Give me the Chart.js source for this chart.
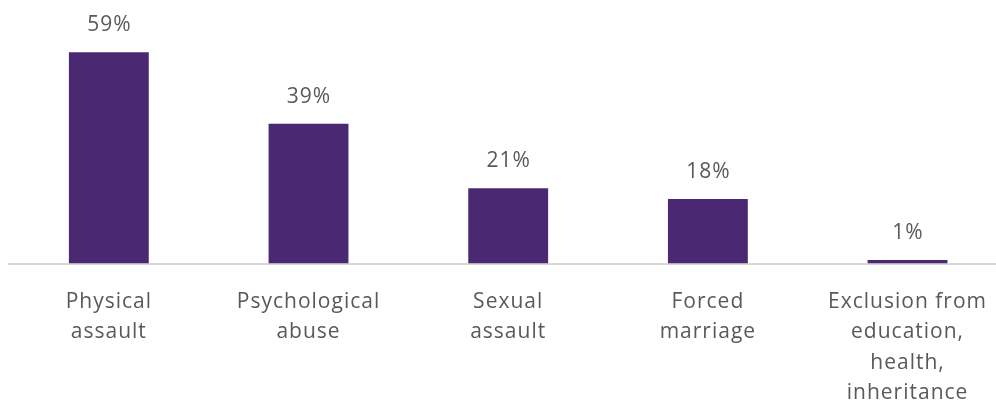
<!DOCTYPE html>
<html>
<head>
<meta charset="utf-8">
<script src="https://cdn.jsdelivr.net/npm/chart.js@4"></script>
<style>
  html, body { margin: 0; padding: 0; background: #fff; overflow: hidden; }
  #wrap { width: 1010px; height: 408px; position: relative; }
</style>
</head>
<body>
<div id="wrap"><canvas id="reportChart"></canvas></div>
<script>
// chart data
const categories = [
  ['Physical', 'assault'],
  ['Psychological', 'abuse'],
  ['Sexual', 'assault'],
  ['Forced', 'marriage'],
  ['Exclusion from', 'education,', 'health,', 'inheritance']
];
const percentages = [59, 39, 21, 18, 1];

const TEXT_COLOR = '#595959';
const BAR_COLOR = '#4a2972';
const FONT_SIZE = 21;

// wider letter spacing like the original office-style text
const spacing = {
  id: 'spacing',
  beforeLayout(chart) { chart.ctx.letterSpacing = '1px'; },
  beforeDraw(chart) { chart.ctx.letterSpacing = '1px'; }
};

// value labels above each bar
const valueLabels = {
  id: 'valueLabels',
  afterDatasetsDraw(chart) {
    const ctx = chart.ctx;
    const meta = chart.getDatasetMeta(0);
    ctx.save();
    ctx.font = FONT_SIZE + 'px "Open Sans"';
    ctx.fillStyle = TEXT_COLOR;
    ctx.textAlign = 'center';
    ctx.textBaseline = 'alphabetic';
    meta.data.forEach((bar, i) => {
      ctx.fillText(percentages[i] + '%', bar.x + 0.5, bar.y - 21);
    });
    ctx.restore();
  }
};

const ctx = document.getElementById('reportChart').getContext('2d');
new Chart(ctx, {
  type: 'bar',
  data: {
    labels: categories,
    datasets: [{ data: percentages, backgroundColor: BAR_COLOR, barPercentage: 0.4, categoryPercentage: 1 }]
  },
  options: {
    responsive: true,
    maintainAspectRatio: false,
    animation: false,
    layout: { padding: { left: 9, right: 0, top: 0, bottom: 0 } },
    plugins: { legend: { display: false }, tooltip: { enabled: false } },
    scales: {
      x: {
        afterFit(scale) { scale.height = 144.5; },
        grid: { display: false, drawTicks: false },
        border: { display: true, color: '#d9d9d9', width: 2 },
        ticks: {
          color: TEXT_COLOR,
          font: { family: '"Open Sans"', size: FONT_SIZE, lineHeight: 1.45 },
          padding: 23,
          maxRotation: 0,
          autoSkip: false
        }
      },
      y: { display: false, min: 0, max: 73.6 }
    }
  },
  plugins: [spacing, valueLabels]
});
</script>
</body>
</html>
